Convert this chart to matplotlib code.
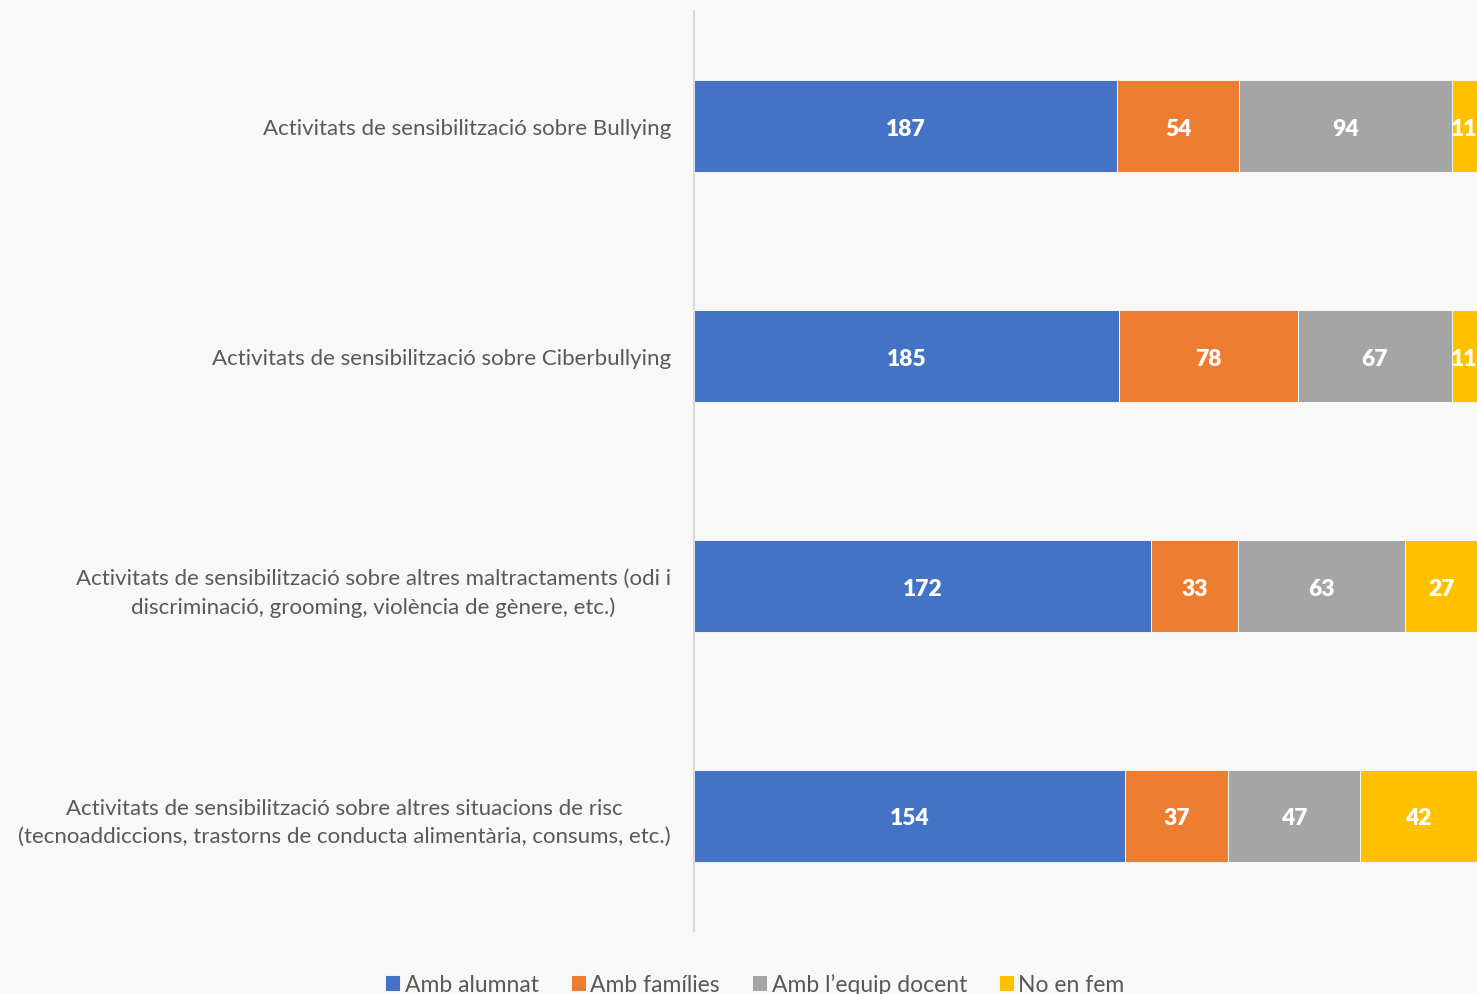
import matplotlib.pyplot as plt
import numpy as np

plt.rcParams['font.family'] = ['Lato', 'DejaVu Sans']

categories = [
    'Activitats de sensibilització sobre Bullying',
    'Activitats de sensibilització sobre Ciberbullying',
    'Activitats de sensibilització sobre altres maltractaments (odi i\ndiscriminació, grooming, violència de gènere, etc.)',
    'Activitats de sensibilització sobre altres situacions de risc\n(tecnoaddiccions, trastorns de conducta alimentària, consums, etc.)',
]
series_names = ['Amb alumnat', 'Amb famílies', 'Amb l\u2019equip docent', 'No en fem']
alumnat = [187, 185, 172, 154]
families = [54, 78, 33, 37]
docent = [94, 67, 63, 47]
no_fem = [11, 11, 27, 42]

colors = ['#4472C4', '#ED7D31', '#A5A5A5', '#FFC000']
BG = '#F8F8F8'
TXT = '#595959'

data = np.array([alumnat, families, docent, no_fem], dtype=float)
totals = data.sum(axis=0)
shares = data / totals

fig = plt.figure(figsize=(14.77, 9.95), dpi=100)
fig.patch.set_facecolor(BG)
ax = fig.add_axes([694 / 1477, 63 / 995, 1 - 694 / 1477, 920 / 995])
ax.set_facecolor(BG)

y = np.arange(len(categories))
left = np.zeros(len(categories))
for i, name in enumerate(series_names):
    bars = ax.barh(y, shares[i], left=left, height=0.4, color=colors[i],
                   edgecolor='white', linewidth=0.6, label=name, zorder=2)
    for j, b in enumerate(bars):
        ax.text(left[j] + shares[i][j] / 2, y[j], f'{int(data[i][j])}',
                ha='center', va='center_baseline', color='white', fontsize=16.5,
                fontweight='heavy', zorder=3)
    left += shares[i]

ax.set_xlim(0, 1)
ax.set_ylim(len(categories) - 0.5, -0.5)
ax.set_yticks(y)
ax.set_yticklabels(categories, fontsize=16, color=TXT, multialignment='center',
                   linespacing=1.5)
ax.tick_params(axis='y', length=0, pad=16.5)
ax.set_xticks([])
for s in ['top', 'right', 'bottom']:
    ax.spines[s].set_visible(False)
ax.spines['left'].set_color('#D9D9D9')
ax.spines['left'].set_linewidth(1.5)

leg = fig.legend(loc='center', bbox_to_anchor=(755 / 1477, 1 - 985 / 995),
                 ncol=4, frameon=False, fontsize=16.5, handlelength=0.65,
                 handleheight=0.65, handletextpad=0.2, columnspacing=1.4)
for t in leg.get_texts():
    t.set_color(TXT)

fig.savefig('out.png', dpi=100, facecolor=BG)
